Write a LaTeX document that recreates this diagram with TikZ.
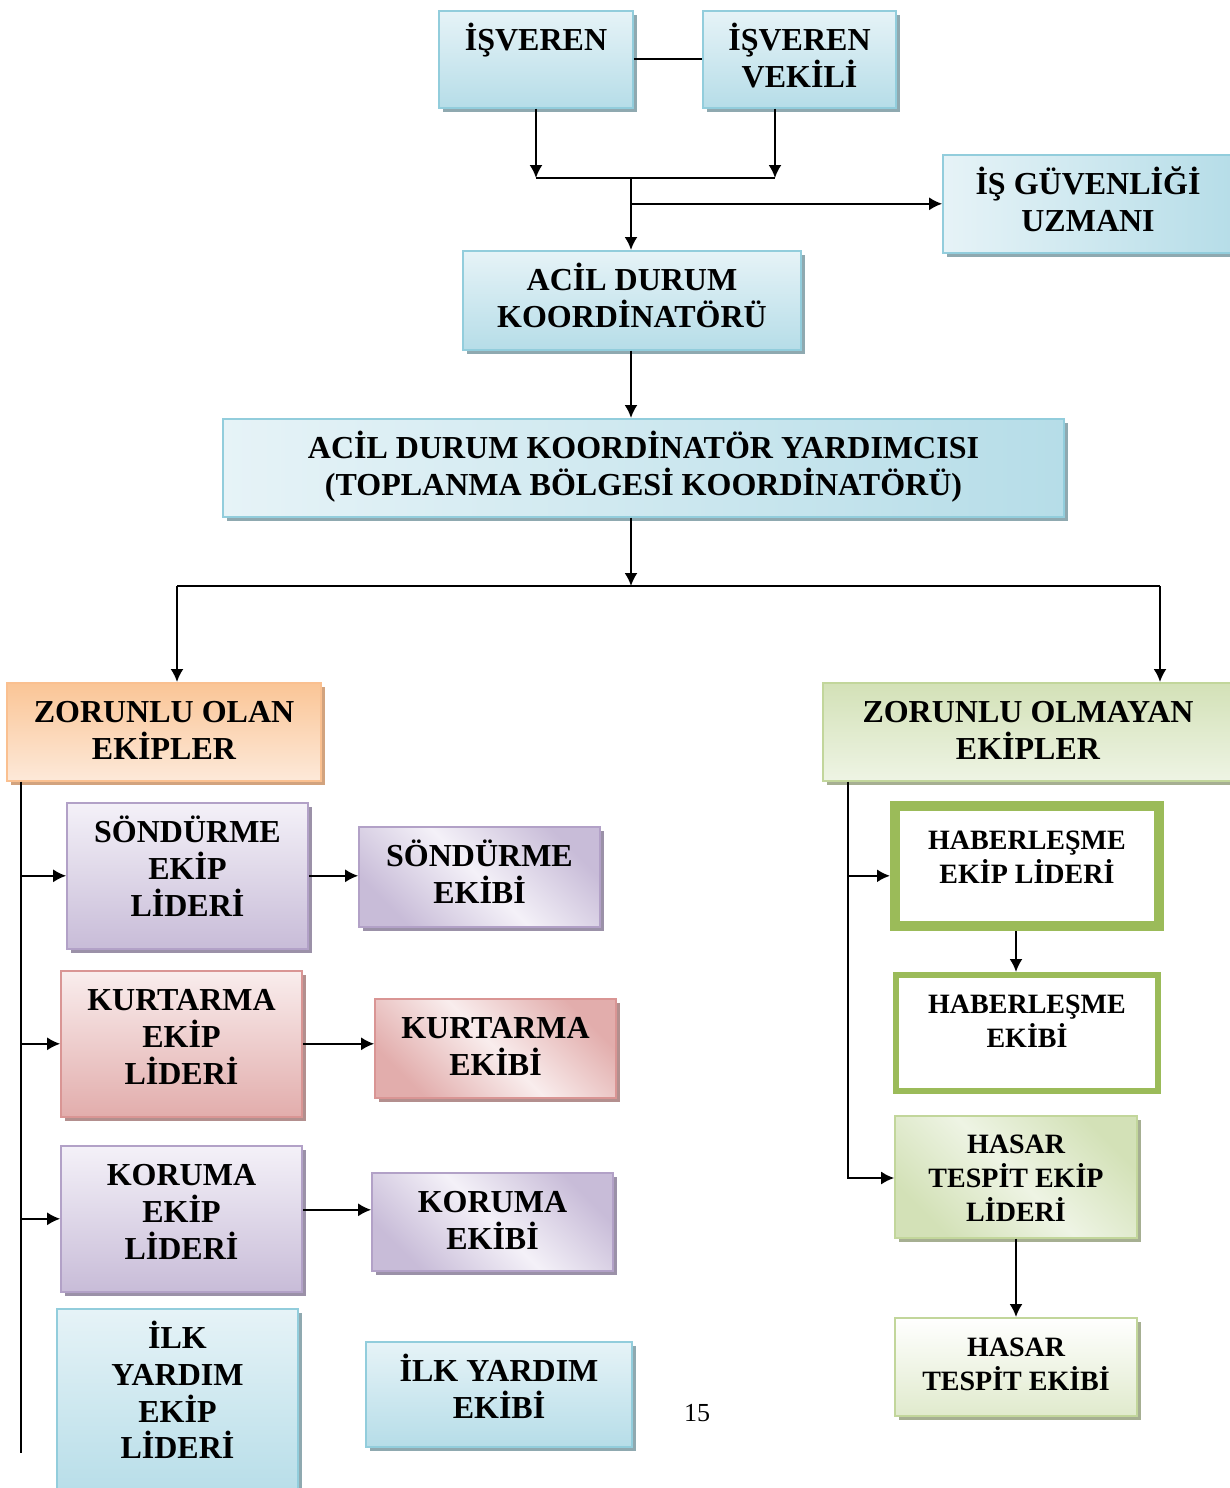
\documentclass[tikz,border=0pt]{standalone}
\usepackage{fontspec}
\setmainfont{Liberation Serif}
\usetikzlibrary{positioning,shadows,arrows.meta}
\definecolor{maviK}{HTML}{92CDDC}
\definecolor{maviA}{HTML}{E6F3F7}
\definecolor{maviB}{HTML}{B6DDE8}
\definecolor{maviG}{HTML}{8FA9B0}
\definecolor{morK}{HTML}{B2A1C7}
\definecolor{morA}{HTML}{F4F1F8}
\definecolor{morB}{HTML}{C8BCD8}
\definecolor{morG}{HTML}{9B91A8}
\definecolor{pembeK}{HTML}{D99594}
\definecolor{pembeA}{HTML}{F9EDED}
\definecolor{pembeB}{HTML}{E2ADAC}
\definecolor{pembeG}{HTML}{B38F8E}
\definecolor{turuncuK}{HTML}{FAC090}
\definecolor{turuncuA}{HTML}{FDE9D9}
\definecolor{turuncuB}{HTML}{FAC596}
\definecolor{turuncuG}{HTML}{D2A37E}
\definecolor{yesilK}{HTML}{C2D69B}
\definecolor{yesilA}{HTML}{EEF4E4}
\definecolor{yesilB}{HTML}{D3E1B7}
\definecolor{yesilG}{HTML}{A6AF92}
\definecolor{yesilC}{HTML}{9BBB59}
\newcommand{\ust}{\rule{0pt}{14pt}}

\begin{document}
\begin{tikzpicture}[x=0.5pt, y=-0.5pt, line width=1pt,
ok/.style={-{Latex[length=6.5pt,width=6.5pt]}},
kutu/.style={anchor=north, align=center, inner xsep=2pt, inner ysep=6pt,
  line width=0.8pt, font=\fontsize{16}{18.3}\selectfont\bfseries},
kucuk/.style={font=\fontsize{14}{17}\selectfont\bfseries},
golge/.style={general shadow={fill=#1, shadow xshift=2pt, shadow yshift=-2pt}},
mavi/.style={kutu, draw=maviK, top color=maviA, bottom color=maviB, golge=maviG},
maviyan/.style={kutu, draw=maviK, left color=maviA, right color=maviB, golge=maviG},
mor/.style={kutu, draw=morK, top color=morA, bottom color=morB, golge=morG},
morcapraz/.style={kutu, draw=morK, left color=morB, right color=morB,
  middle color=morA, shading angle=-45, golge=morG},
pembe/.style={kutu, draw=pembeK, top color=pembeA, bottom color=pembeB, golge=pembeG},
pembecapraz/.style={kutu, draw=pembeK, left color=pembeB, right color=pembeB,
  middle color=pembeA, shading angle=-45, golge=pembeG},
turuncu/.style={kutu, draw=turuncuK, top color=turuncuB, bottom color=turuncuA, golge=turuncuG},
yesil/.style={kutu, draw=yesilK, top color=yesilB, bottom color=yesilA, golge=yesilG},
yesilcapraz/.style={kutu, draw=yesilK, left color=yesilB, right color=yesilB,
  middle color=yesilA, shading angle=-45, golge=yesilG},
yesilacik/.style={kutu, draw=yesilK, top color=white, bottom color=yesilB!70, golge=yesilG},
cerceve/.style={kutu, draw=yesilC, fill=white}]
\useasboundingbox (0,0) rectangle (1230,1488);

% ust kisim
\node[mavi, minimum width=97pt, text depth=22.5pt] (isveren) at (536,10) {\ust İŞVEREN};
\node[mavi, minimum width=96.5pt, text depth=4.2pt] (vekil) at (799.5,10) {\ust İŞVEREN\\VEKİLİ};
\node[maviyan, minimum width=145pt, text depth=4.7pt] (uzman) at (1088,154) {\ust İŞ GÜVENLİĞİ\\UZMANI};
\node[mavi, minimum width=169pt, text depth=5.2pt] (koord) at (632,250) {\ust ACİL DURUM\\KOORDİNATÖRÜ};
\node[maviyan, minimum width=420.5pt, text depth=4.7pt] (yard) at (643.5,418)
  {\ust ACİL DURUM KOORDİNATÖR YARDIMCISI\\(TOPLANMA BÖLGESİ KOORDİNATÖRÜ)};
\node[turuncu, minimum width=157pt, text depth=4.7pt] (zorunlu) at (164,682) {\ust ZORUNLU OLAN\\EKİPLER};
\node[yesil, minimum width=205pt, text depth=4.7pt] (olmayan) at (1028,682) {\ust ZORUNLU OLMAYAN\\EKİPLER};

% zorunlu olan ekipler
\node[mor, minimum width=120.5pt, text depth=10.4pt] (sondL) at (187.5,802) {\ust SÖNDÜRME\\EKİP\\LİDERİ};
\node[morcapraz, minimum width=120.5pt, text depth=5.7pt] (sondE) at (479.5,826) {\ust SÖNDÜRME\\EKİBİ};
\node[pembe, minimum width=120.5pt, text depth=10.4pt] (kurtL) at (181.5,970) {\ust KURTARMA\\EKİP\\LİDERİ};
\node[pembecapraz, minimum width=120.5pt, text depth=5.2pt] (kurtE) at (495.5,998) {\ust KURTARMA\\EKİBİ};
\node[mor, minimum width=120.5pt, text depth=10.4pt] (korL) at (181.5,1145) {\ust KORUMA\\EKİP\\LİDERİ};
\node[morcapraz, minimum width=120.5pt, text depth=4.7pt] (korE) at (492.5,1172) {\ust KORUMA\\EKİBİ};
\node[mavi, minimum width=120.5pt, text depth=14.1pt] (ilkL) at (177.5,1308) {\ust İLK\\YARDIM\\EKİP\\LİDERİ};
\node[mavi, minimum width=133pt, text depth=8.2pt] (ilkE) at (499,1341) {\ust İLK YARDIM\\EKİBİ};

% zorunlu olmayan ekipler
\node[cerceve, kucuk, line width=4pt, minimum width=133pt, inner ysep=8.1pt, text depth=13.8pt] (haberL) at (1027,801) {\ust HABERLEŞME\\EKİP LİDERİ};
\draw[yesilC, line width=0.9pt] ([shift={(4.6pt,-4.6pt)}]haberL.north west) rectangle ([shift={(-4.6pt,4.6pt)}]haberL.south east);
\node[cerceve, kucuk, line width=3pt, minimum width=131pt, inner ysep=5.2pt, text depth=16.6pt] (haberE) at (1027,972) {\ust HABERLEŞME\\EKİBİ};
\node[yesilcapraz, kucuk, minimum width=121pt, inner ysep=4.6pt, text depth=3.8pt] (hasarL) at (1016,1115) {\ust HASAR\\TESPİT EKİP\\LİDERİ};
\node[yesilacik, kucuk, minimum width=121pt, inner ysep=5.2pt, text depth=7.6pt] (hasarE) at (1016,1317) {\ust HASAR\\TESPİT EKİBİ};
\node[font=\fontsize{13}{15}\selectfont] (sayfa) at (697,1413) {15};

\coordinate (j1) at (536,178);
\coordinate (j2) at (775,178);
\coordinate (jm) at (631,178);
\coordinate (ayir) at (631,586);
\coordinate (sol) at (177,586);
\coordinate (sag) at (1160,586);
\coordinate (solK) at (21,1453);
\coordinate (sagK) at (848,1178);

\draw (isveren) -- (vekil);
\draw[ok] (isveren.south -| j1) -- (j1);
\draw[ok] (vekil.south -| j2) -- (j2);
\draw (j1) -- (j2);
\draw[ok] (jm) -- (koord.north -| jm);
\draw[ok] (uzman.west -| jm) -- (uzman.west);
\draw[ok] (koord.south -| jm) -- (yard.north -| jm);
\draw[ok] (yard.south -| ayir) -- (ayir);
\draw (sol) -- (sag);
\draw[ok] (sol) -- (sol |- zorunlu.north);
\draw[ok] (sag) -- (sag |- olmayan.north);

\draw (zorunlu.south -| solK) -- (solK);
\draw[ok] (solK |- sondL) -- (sondL);
\draw[ok] (solK |- kurtL) -- (kurtL);
\draw[ok] (solK |- korL) -- (korL);
\draw[ok] (sondL.east) -- (sondL.east -| sondE.west);
\draw[ok] (kurtL.east) -- (kurtL.east -| kurtE.west);
\draw[ok] ([yshift=4.5pt]korL.east) -- ([yshift=4.5pt]korL.east -| korE.west);

\draw[ok] (olmayan.south -| sagK) -- (sagK) -- (sagK -| hasarL.west);
\draw[ok] (sagK |- sondL) -- (haberL.west |- sondL);
\draw[ok] (haberL.south -| hasarL) -- (haberE.north -| hasarL);
\draw[ok] (hasarL) -- (hasarE);
\end{tikzpicture}
\end{document}
